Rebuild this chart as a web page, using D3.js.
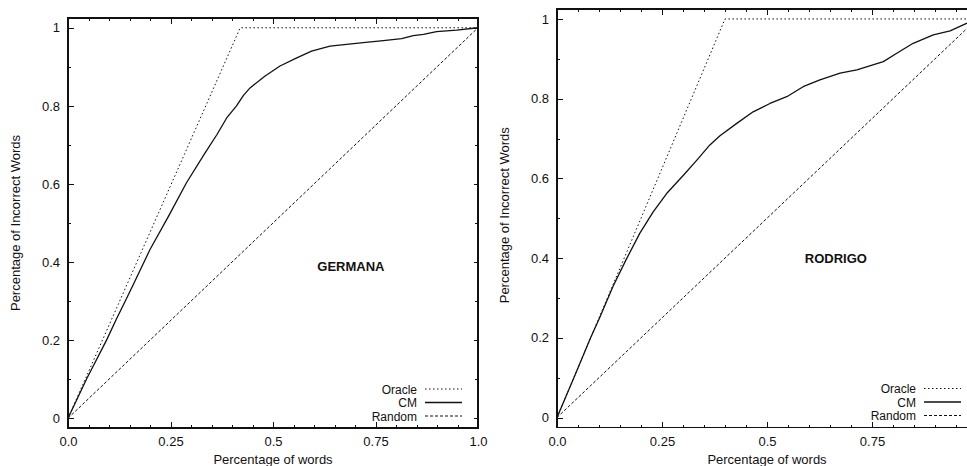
<!DOCTYPE html>
<html lang="en">
<head>
    <meta charset="UTF-8">
    <title>Oracle / CM / Random</title>
    <style>
        body{margin:0;background:#fff;}
        svg{display:block;}
        text{font-family:"Liberation Sans",Arial,Helvetica,sans-serif;fill:#111;}
        .axis line{stroke:#111;stroke-width:1;shape-rendering:crispEdges;}
        .axis path{display:none;}
        .axis text{font-size:13px;}
        .frame{fill:none;stroke:#111;stroke-width:1.5;shape-rendering:crispEdges;}
        .title{font-size:13px;text-anchor:middle;}
        .name{font-size:13px;font-weight:bold;text-anchor:middle;}
        .leg{font-size:12px;text-anchor:end;}
    </style>
    <script src="https://cdn.jsdelivr.net/npm/d3@7"></script>
</head>
<body>
<script>
    // tick labels
    var xTicks = [0, 0.25, 0.5, 0.75, 1];
    var xTickLabels = ["0.0", "0.25", "0.5", "0.75", "1.0"];
    var yTicks = [0, 0.2, 0.4, 0.6, 0.8, 1];
    var yTickLabels = ["0", "0.2", "0.4", "0.6", "0.8", "1"];
    var seriesNames = ["Oracle", "CM", "Random"];

    // GERMANA
    var germanaOracleX = [0, 0.42, 1];
    var germanaOracleY = [0, 1, 1];
    var germanaCmX = [0, 0.045, 0.094, 0.119, 0.141, 0.159, 0.2, 0.245, 0.289, 0.334, 0.363, 0.387, 0.411, 0.428, 0.444, 0.48, 0.517, 0.558, 0.594, 0.639, 0.72, 0.769, 0.814, 0.842, 0.867, 0.899, 0.948, 1.0];
    var germanaCmY = [0, 0.1, 0.2, 0.256, 0.303, 0.342, 0.432, 0.517, 0.603, 0.679, 0.726, 0.769, 0.80, 0.827, 0.846, 0.876, 0.902, 0.923, 0.94, 0.953, 0.962, 0.967, 0.972, 0.98, 0.983, 0.99, 0.994, 1.0];
    var germanaRandomX = [0, 1];
    var germanaRandomY = [0, 1];

    // RODRIGO
    var rodrigoOracleX = [0, 0.40, 1];
    var rodrigoOracleY = [0, 1, 1];
    var rodrigoCmX = [0, 0.041, 0.08, 0.101, 0.133, 0.164, 0.197, 0.229, 0.261, 0.301, 0.333, 0.364, 0.388, 0.428, 0.467, 0.507, 0.547, 0.586, 0.626, 0.674, 0.714, 0.777, 0.809, 0.848, 0.896, 0.936, 0.975, 1.0];
    var rodrigoCmY = [0, 0.102, 0.2, 0.249, 0.328, 0.395, 0.462, 0.516, 0.562, 0.608, 0.646, 0.684, 0.707, 0.738, 0.767, 0.788, 0.805, 0.83, 0.847, 0.864, 0.872, 0.893, 0.914, 0.939, 0.96, 0.97, 0.989, 1.0];
    var rodrigoRandomX = [0, 1];
    var rodrigoRandomY = [0, 1];

    var width = 967, height = 466;
    var svg = d3.select("body").append("svg")
            .attr("width", width)
            .attr("height", height);

    function zip(xs, ys){
        return xs.map(function(x, i){ return {x: x, y: ys[i]}; });
    }

    // line styles: oracle dotted, cm solid, random dashed
    var styles = [
        {dash: "1.5,2.5", w: 1},
        {dash: null, w: 1.3},
        {dash: "3,2", w: 1}
    ];

    function panel(p){
        var x = d3.scaleLinear().domain([0, 1]).range([p.left, p.right]);
        var y = d3.scaleLinear().domain([-0.025, 1.025]).range([p.bottom, p.top]);
        var g = svg.append("g");

        var minorX = d3.range(0, 1.0001, 0.05).filter(function(v){ return Math.abs(v*4 - Math.round(v*4)) > 1e-6; });
        var minorY = d3.range(0, 1.0001, 0.1).filter(function(v){ return Math.abs(v*5 - Math.round(v*5)) > 1e-6; });

        // bottom / left with labels (labels past the page edge are not shown)
        g.append("g").attr("class", "axis")
                .attr("transform", "translate(0," + p.bottom + ")")
                .call(d3.axisBottom(x).tickValues(xTicks).tickSize(-6).tickPadding(9)
                        .tickFormat(function(d, i){ return x(d) > width - 8 ? "" : xTickLabels[i]; }));
        g.append("g").attr("class", "axis")
                .attr("transform", "translate(0," + p.bottom + ")")
                .call(d3.axisBottom(x).tickValues(minorX).tickSize(-3).tickFormat(""));
        g.append("g").attr("class", "axis")
                .attr("transform", "translate(" + p.left + ",0)")
                .call(d3.axisLeft(y).tickValues(yTicks).tickSize(-6).tickPadding(8)
                        .tickFormat(function(d, i){ return yTickLabels[i]; }));
        g.append("g").attr("class", "axis")
                .attr("transform", "translate(" + p.left + ",0)")
                .call(d3.axisLeft(y).tickValues(minorY).tickSize(-3).tickFormat(""));

        // mirrored ticks on top / right
        g.append("g").attr("class", "axis")
                .attr("transform", "translate(0," + p.top + ")")
                .call(d3.axisTop(x).tickValues(xTicks).tickSize(-6).tickFormat(""));
        g.append("g").attr("class", "axis")
                .attr("transform", "translate(0," + p.top + ")")
                .call(d3.axisTop(x).tickValues(minorX).tickSize(-3).tickFormat(""));
        g.append("g").attr("class", "axis")
                .attr("transform", "translate(" + p.right + ",0)")
                .call(d3.axisRight(y).tickValues(yTicks).tickSize(-4).tickFormat(""));
        g.append("g").attr("class", "axis")
                .attr("transform", "translate(" + p.right + ",0)")
                .call(d3.axisRight(y).tickValues(minorY).tickSize(-3).tickFormat(""));

        g.append("rect").attr("class", "frame")
                .attr("x", p.left).attr("y", p.top)
                .attr("width", p.right - p.left).attr("height", p.bottom - p.top);

        var line = d3.line()
                .x(function(d){ return x(d.x); })
                .y(function(d){ return y(d.y); });

        p.series.forEach(function(s, i){
            g.append("path")
                    .attr("d", line(s))
                    .attr("fill", "none")
                    .attr("stroke", "#111")
                    .attr("stroke-width", styles[i].w)
                    .attr("stroke-dasharray", styles[i].dash)
                    .attr("stroke-linejoin", "round");
        });

        // axis titles
        g.append("text").attr("class", "title")
                .attr("x", (p.left + p.right) / 2)
                .attr("y", 464)
                .text("Percentage of words");
        g.append("text").attr("class", "title")
                .attr("transform", "translate(" + (p.left - 48) + "," + ((p.top + p.bottom) / 2 + p.ytShift) + ") rotate(-90)")
                .text("Percentage of Incorrect Words");

        // data set name
        g.append("text").attr("class", "name")
                .attr("x", x(p.nameAt[0]))
                .attr("y", y(p.nameAt[1]))
                .attr("dy", "0.35em")
                .text(p.name);

        // legend
        var leg = g.append("g").attr("transform", "translate(" + (p.right - 61) + "," + (p.bottom - 34.5) + ")");
        seriesNames.forEach(function(n, i){
            leg.append("text").attr("class", "leg")
                    .attr("x", 0).attr("y", i * 13.5)
                    .text(n);
            leg.append("line")
                    .attr("x1", 8).attr("x2", 45)
                    .attr("y1", i * 13.5 - 4.5).attr("y2", i * 13.5 - 4.5)
                    .attr("stroke", "#111")
                    .attr("stroke-width", styles[i].w)
                    .attr("stroke-dasharray", styles[i].dash);
        });
    }

    panel({
        left: 68, right: 478, top: 18, bottom: 428, ytShift: 0,
        name: "GERMANA", nameAt: [0.69, 0.39],
        series: [zip(germanaOracleX, germanaOracleY), zip(germanaCmX, germanaCmY), zip(germanaRandomX, germanaRandomY)]
    });
    panel({
        left: 557, right: 977, top: 9, bottom: 427.5, ytShift: -3,
        name: "RODRIGO", nameAt: [0.664, 0.40],
        series: [zip(rodrigoOracleX, rodrigoOracleY), zip(rodrigoCmX, rodrigoCmY), zip(rodrigoRandomX, rodrigoRandomY)]
    });
</script>
</body>
</html>
